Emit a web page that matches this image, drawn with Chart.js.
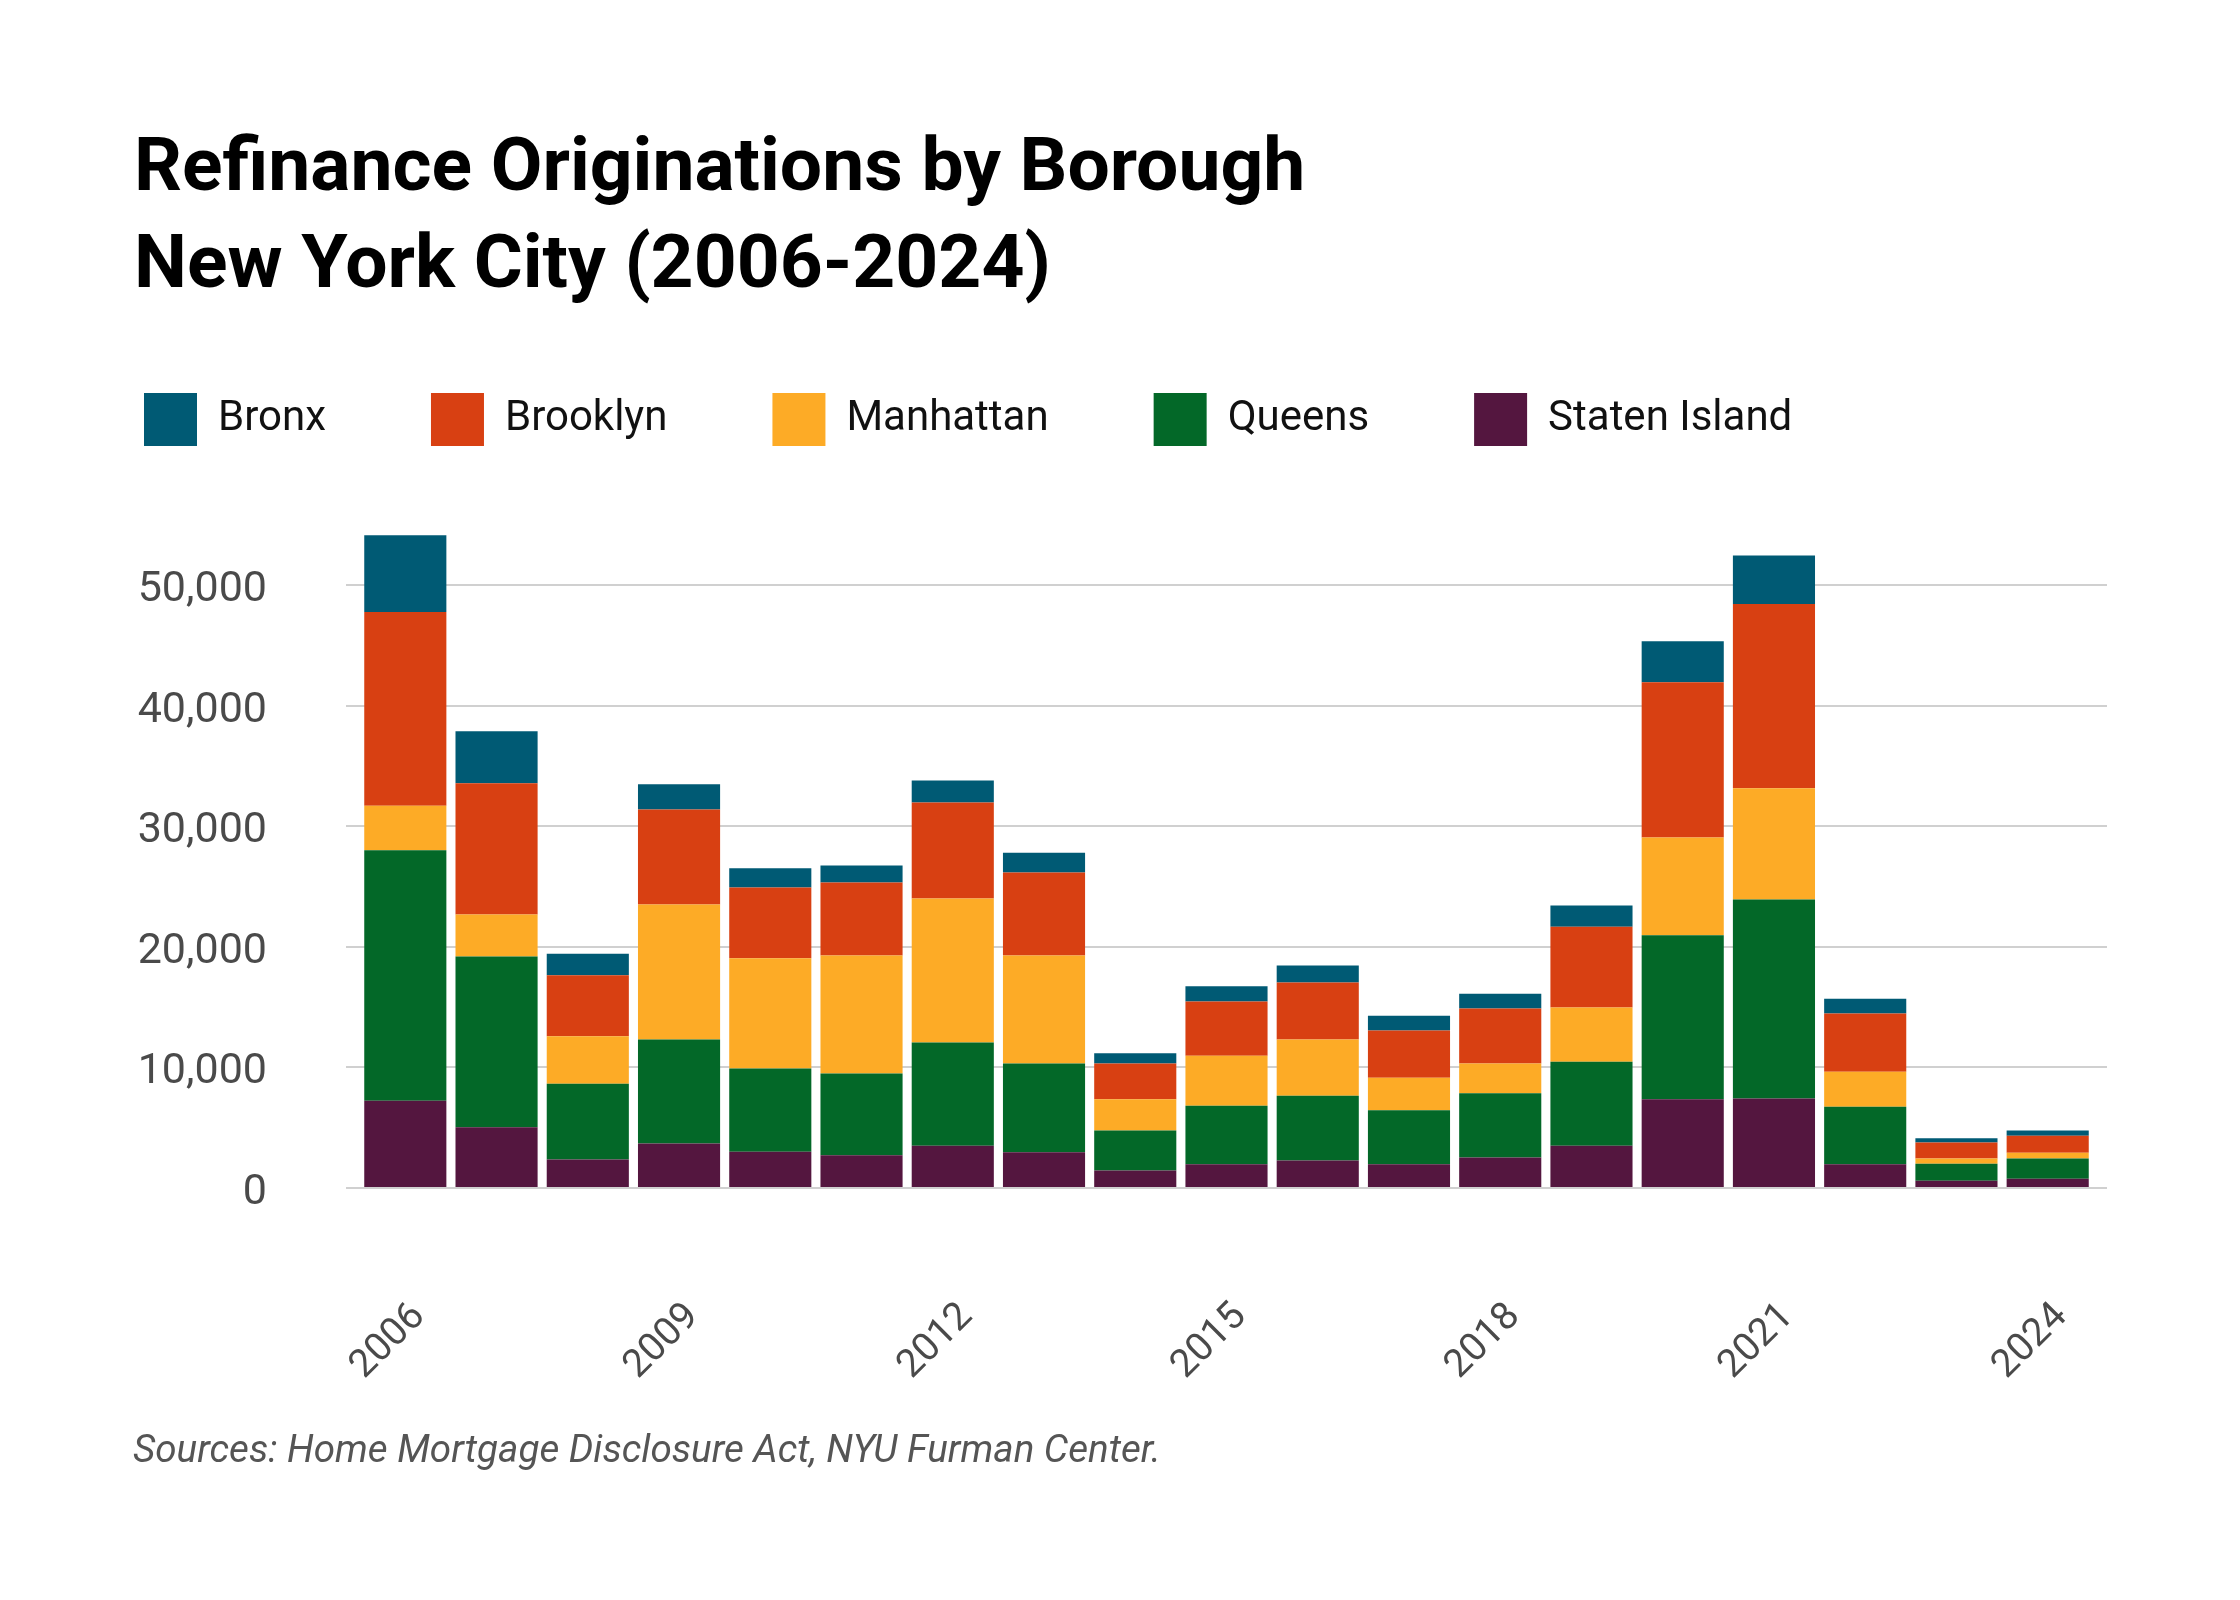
<!DOCTYPE html>
<html>
<head>
<meta charset="utf-8">
<script src="https://cdn.jsdelivr.net/npm/chart.js@4.4.1/dist/chart.umd.min.js"></script>
<style>
  html, body { margin:0; padding:0; background:#fff; }
  #wrap { position:relative; width:2240px; height:1600px; overflow:hidden; }
  #chartBox { position:absolute; left:0; top:0; width:2240px; height:1600px; }
  #title { position:absolute; left:134px; top:116px; margin:0; font-family:Roboto, sans-serif; font-weight:700; font-size:75px; line-height:97px; color:#000; white-space:nowrap; }
  #title span { display:block; }
  #source { position:absolute; left:133px; top:1426px; font-family:Roboto, sans-serif; font-style:italic; font-size:38.6px; color:#555; white-space:nowrap; }
</style>
</head>
<body>
<div id="wrap">
  <div id="chartBox"><canvas id="c"></canvas></div>
  <h1 id="title"><span>Refinance Originations by Borough</span><span>New York City (2006-2024)</span></h1>
  <div id="source">Sources: Home Mortgage Disclosure Act, NYU Furman Center.</div>
</div>
<script>
const years = [2006, 2007, 2008, 2009, 2010, 2011, 2012, 2013, 2014, 2015, 2016, 2017, 2018, 2019, 2020, 2021, 2022, 2023, 2024];
const tickYears = [2006, 2009, 2012, 2015, 2018, 2021, 2024];
const yTicks = [0, 10000, 20000, 30000, 40000, 50000];

const statenIsland = [7240, 5030, 2360, 3700, 3010, 2710, 3510, 2970, 1450, 1980, 2290, 1980, 2520, 3510, 7360, 7430, 1980, 610, 760];
const queens       = [20770, 14180, 6290, 8610, 6900, 6780, 8570, 7360, 3310, 4840, 5370, 4460, 5330, 6970, 13600, 16500, 4770, 1410, 1680];
const manhattan    = [3700, 3470, 3930, 11200, 9140, 9790, 11930, 8950, 2600, 4160, 4650, 2710, 2480, 4500, 8120, 9230, 2890, 420, 490];
const brooklyn     = [16080, 10890, 5060, 7890, 5870, 6060, 7960, 6900, 2970, 4490, 4730, 3920, 4570, 6700, 12880, 15280, 4840, 1330, 1410];
const bronx        = [6360, 4310, 1800, 2100, 1600, 1410, 1830, 1640, 840, 1260, 1410, 1220, 1220, 1760, 3390, 4040, 1220, 350, 420];

const seriesNames  = ['Staten Island', 'Queens', 'Manhattan', 'Brooklyn', 'Bronx'];
const seriesValues = [statenIsland, queens, manhattan, brooklyn, bronx];
const seriesColors = ['#54163f', '#036828', '#fdab26', '#d84012', '#005a74'];

Chart.defaults.font.family = 'Roboto, sans-serif';
Chart.defaults.color = '#4a4a4a';

const legendSpacer = {
  id: 'legendSpacer',
  beforeInit(chart) {
    const origFit = chart.legend.fit;
    chart.legend.fit = function () {
      origFit.call(this);
      this.height += 69;
    };
  }
};

new Chart(document.getElementById('c'), {
  type: 'bar',
  data: {
    labels: years,
    datasets: seriesNames.map((name, i) => ({
      label: name,
      data: seriesValues[i],
      backgroundColor: seriesColors[i],
      borderWidth: 0,
      categoryPercentage: 1.0,
      barPercentage: 0.9
    }))
  },
  options: {
    responsive: true,
    maintainAspectRatio: false,
    devicePixelRatio: 1,
    animation: false,
    layout: { padding: { left: 39, right: 133, top: 288, bottom: 0 } },
    plugins: {
      title: { display: false },
      tooltip: { enabled: false },
      legend: {
        display: true,
        position: 'top',
        align: 'start',
        reverse: true,
        labels: {
          boxWidth: 53,
          boxHeight: 53,
          padding: 105,
          color: '#111',
          font: { size: 42 }
        }
      }
    },
    scales: {
      x: {
        type: 'linear',
        offset: false,
        stacked: true,
        min: 2005.35,
        max: 2024.65,
        grid: { display: false, offset: false },
        border: { display: false },
        afterBuildTicks: (scale) => { scale.ticks = tickYears.map(v => ({ value: v })); },
        afterFit: (scale) => { scale.height = 412; },
        ticks: {
          autoSkip: false,
          minRotation: 45,
          maxRotation: 45,
          padding: 98,
          labelOffset: 14,
          color: '#4a4a4a',
          font: { size: 39 },
          callback: (v) => String(v)
        }
      },
      y: {
        stacked: true,
        min: 0,
        max: 55000,
        afterBuildTicks: (scale) => { scale.ticks = yTicks.map(v => ({ value: v })); },
        afterFit: (scale) => { scale.width = 307; },
        grid: { color: '#d0d0d0', lineWidth: 2, drawTicks: false },
        border: { display: false },
        ticks: {
          padding: 79,
          labelOffset: 5,
          color: '#4a4a4a',
          font: { size: 43 },
          callback: (v) => v.toLocaleString('en-US')
        }
      }
    }
  },
  plugins: [legendSpacer]
});
</script>
</body>
</html>
